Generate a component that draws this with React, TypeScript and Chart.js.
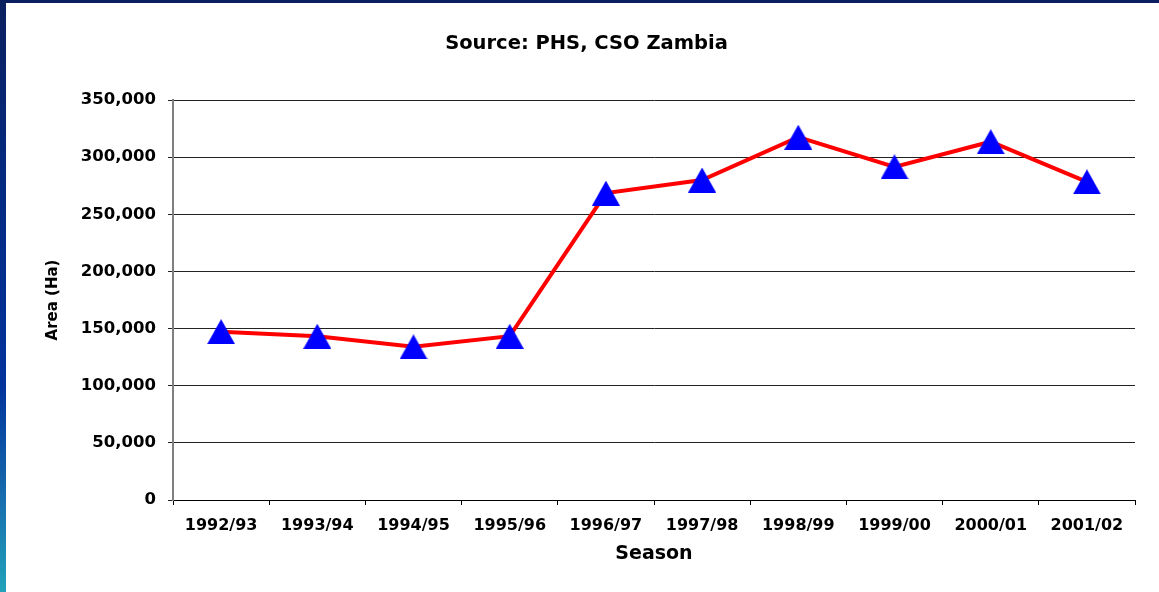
import { useEffect, useRef } from 'react';
import { Chart, registerables } from 'chart.js';

Chart.register(...registerables);

const seasons = ['1992/93', '1993/94', '1994/95', '1995/96', '1996/97', '1997/98', '1998/99', '1999/00', '2000/01', '2001/02'];
const areaHa = [147300, 143300, 134000, 143300, 268500, 280000, 317500, 291500, 313500, 278400];
const yMin = 0;
const yMax = 350000;
const yStep = 50000;
const chartTitle = 'Source: PHS, CSO Zambia';
const yTitle = 'Area (Ha)';
const xTitle = 'Season';

const FONT = "'DejaVu Sans', 'Liberation Sans', Arial, sans-serif";

function makeTriangle(): HTMLCanvasElement {
  const w = 28;
  const h = 25;
  const c = document.createElement('canvas');
  c.width = w;
  c.height = h;
  const g = c.getContext('2d')!;
  g.fillStyle = '#0000ff';
  g.beginPath();
  g.moveTo(w / 2, 0);
  g.lineTo(w, h);
  g.lineTo(0, h);
  g.closePath();
  g.fill();
  return c;
}

const titlePlugin = {
  id: 'slideTitle',
  afterDraw(chart: any) {
    const ctx = chart.ctx;
    ctx.save();
    ctx.font = `bold 19.5px ${FONT}`;
    ctx.fillStyle = '#000';
    ctx.textAlign = 'center';
    ctx.textBaseline = 'middle';
    ctx.fillText(chartTitle, 586.5, 44);
    ctx.restore();
  },
};

export default function App() {
  const ref = useRef<HTMLCanvasElement | null>(null);

  useEffect(() => {
    const canvas = ref.current;
    if (!canvas) return;
    const tri = makeTriangle();
    const chart = new Chart(canvas, {
      type: 'line',
      data: {
        labels: seasons,
        datasets: [
          {
            label: 'Area',
            data: areaHa,
            borderColor: '#ff0000',
            borderWidth: 4,
            tension: 0,
            fill: false,
            pointStyle: tri as any,
            pointRadius: 13,
            pointHoverRadius: 13,
            pointBackgroundColor: '#0000ff',
            pointBorderColor: '#0000ff',
          },
        ],
      },
      options: {
        responsive: false,
        animation: false,
        events: [],
        layout: { padding: { left: 0, right: 24, top: 100, bottom: 0 } },
        plugins: {
          legend: { display: false },
          tooltip: { enabled: false },
          title: { display: false },
        },
        scales: {
          x: {
            type: 'category',
            offset: true,
            grid: {
              offset: true,
              drawOnChartArea: false,
              drawTicks: true,
              tickLength: 5,
              color: '#000',
              lineWidth: 1,
            },
            border: { display: true, color: '#000', width: 1 },
            ticks: {
              color: '#000',
              padding: 11,
              maxRotation: 0,
              autoSkip: false,
              font: { family: FONT, size: 16, weight: 'bold' },
            },
            title: {
              display: true,
              text: xTitle,
              color: '#000',
              font: { family: FONT, size: 19, weight: 'bold' },
              padding: { top: 0, bottom: 26.6 },
            },
            afterFit: (scale: any) => {
              scale.height = 92;
            },
          },
          y: {
            type: 'linear',
            min: yMin,
            max: yMax,
            ticks: {
              stepSize: yStep,
              color: '#000',
              padding: 12,
              font: { family: FONT, size: 16.5, weight: 'bold' },
              callback: (v: any) => Number(v).toLocaleString('en-US'),
            },
            grid: {
              drawOnChartArea: true,
              drawTicks: true,
              tickLength: 5,
              color: '#222222',
              lineWidth: 1,
            },
            border: { display: true, color: '#808080', width: 2 },
            title: {
              display: true,
              text: yTitle,
              color: '#000',
              font: { family: FONT, size: 15, weight: 'bold' },
              padding: { top: 44, bottom: 0 },
            },
            afterFit: (scale: any) => {
              scale.width = 173;
            },
          },
        },
      },
      plugins: [titlePlugin],
    });
    return () => {
      chart.destroy();
    };
  }, []);

  return (
    <div style={{ position: 'fixed', left: 0, top: 0, width: 1159, height: 592, background: '#fff', overflow: 'hidden' }}>
      <canvas ref={ref} width={1159} height={592} style={{ position: 'absolute', left: 0, top: 0, width: 1159, height: 592 }} />
      <div style={{ position: 'absolute', left: 0, top: 0, width: 1159, height: 3, background: '#0b1f5e' }} />
      <div
        style={{
          position: 'absolute',
          left: 0,
          top: 0,
          width: 6,
          height: 592,
          background: 'linear-gradient(to bottom, #0b1f5e 0%, #042a80 30%, #00339c 65%, #1566ab 82%, #22a3ba 100%)',
        }}
      />
    </div>
  );
}
